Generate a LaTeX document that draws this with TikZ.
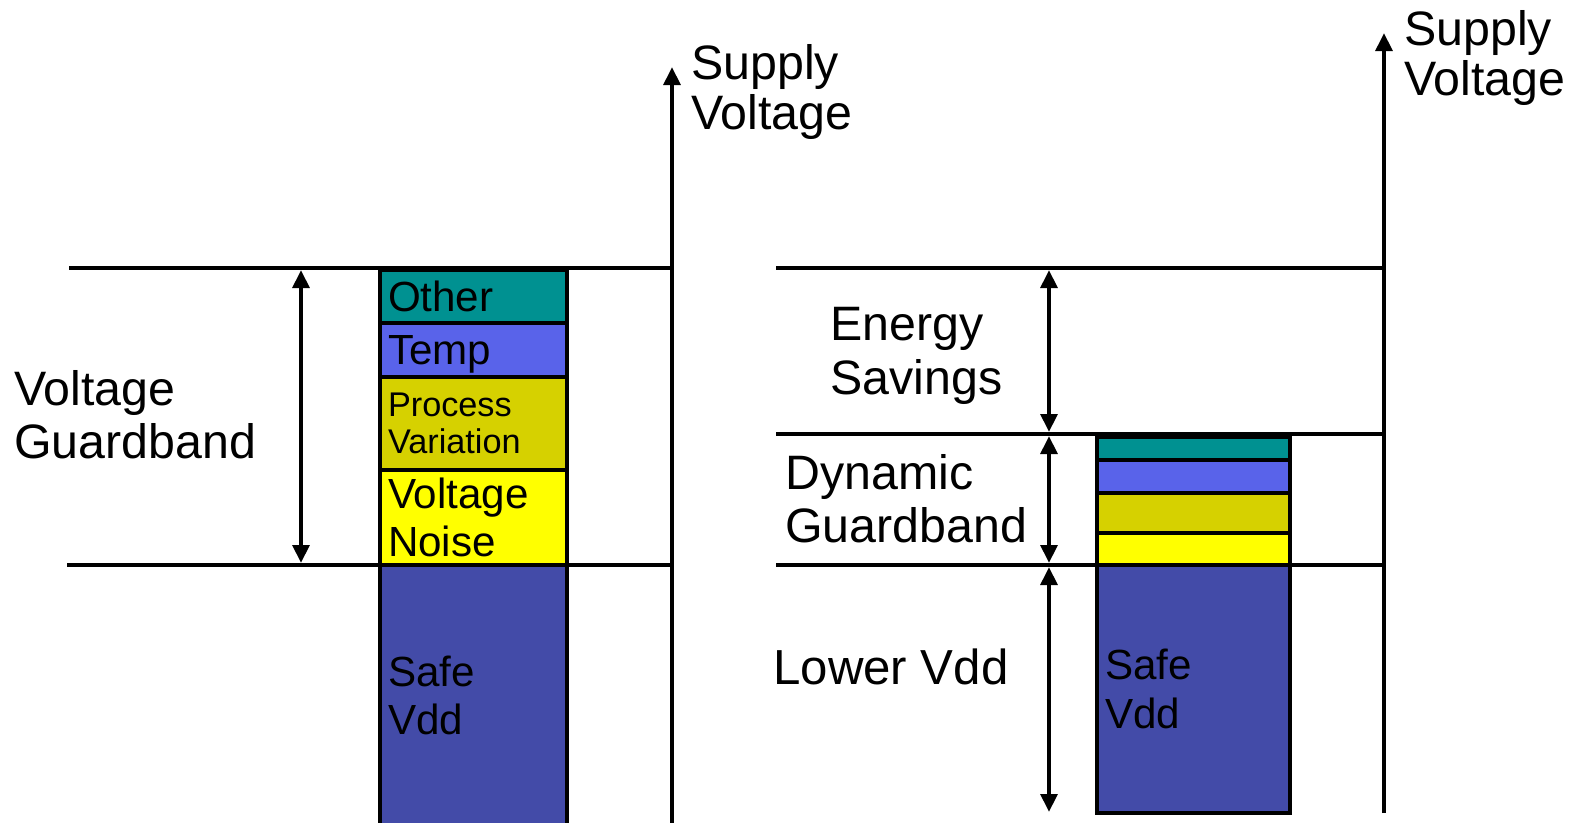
\documentclass[tikz,border=0pt]{standalone}
\usepackage{fontspec}
\setmainfont{Liberation Sans}
\usetikzlibrary{arrows.meta,positioning}
\definecolor{cother}{RGB}{0,145,145}
\definecolor{ctemp}{RGB}{89,99,234}
\definecolor{cproc}{RGB}{214,209,0}
\definecolor{cnoise}{RGB}{255,255,0}
\definecolor{csafe}{RGB}{67,75,168}
\tikzset{
band/.style={draw,line width=2.6pt,outer sep=0pt,inner xsep=.16cm,inner ysep=0pt,align=left,font=\fontsize{24}{27.5}\selectfont},
lband/.style={band,text width=3.42cm},
rband/.style={band,text width=3.54cm},
level/.style={line width=2.5pt},
axis/.style={line width=2.5pt,-{Triangle[length=3.6mm,width=3.3mm]}},
span/.style={line width=2.5pt,{Triangle[length=3.6mm,width=3.3mm]}-{Triangle[length=3.6mm,width=3.3mm]}},
caption/.style={anchor=west,inner sep=0pt,align=left,font=\fontsize{27.5}{30}\selectfont}
}
\begin{document}
\begin{tikzpicture}[x=0.02cm,y=-0.02cm]
\useasboundingbox (0,0) rectangle (1581,822);
% left: static guardband
\coordinate (lorig) at (672,830);
\coordinate (ltip) at (672,67);
\coordinate (lnom) at (69,268);
\coordinate (lsafe) at (67,565);
\coordinate (gbtop) at (301,270);
\coordinate (gbbot) at (301,563);
\draw[axis](lorig)--(ltip);
\draw[level](lnom)--(lnom -| ltip);
\draw[level](lsafe)--(lsafe -| ltip);
\draw[span](gbtop)--(gbbot);
\node[caption,font=\fontsize{27.5}{28.5}\selectfont](lsupply) at (691,92){Supply\\Voltage};
\node[caption](guardband) at (14,415){Voltage\\Guardband};
\node[lband,fill=cother,minimum height=1.06cm,anchor=north west](other) at (380,270){Other};
\node[lband,fill=ctemp,minimum height=1.08cm,below=0pt of other](temp){\raisebox{0pt}[\height][0pt]{Temp}};
\node[lband,fill=cproc,minimum height=1.86cm,below=0pt of temp,font=\fontsize{19.5}{21}\selectfont](process){Process\\Variation};
\node[lband,fill=cnoise,minimum height=1.9cm,below=0pt of process](noise){Voltage\\Noise};
\node[lband,fill=csafe,minimum height=5.22cm,below=0pt of noise](safe){Safe\\Vdd};
% right: dynamic guardband
\coordinate (rorig) at (1384,813);
\coordinate (rtip) at (1384,33);
\coordinate (rnom) at (776,268);
\coordinate (rdyn) at (776,434);
\coordinate (rsafe) at (776,565);
\coordinate (estop) at (1049,270);
\coordinate (esbot) at (1049,432);
\coordinate (dgtop) at (1049,436);
\coordinate (dgbot) at (1049,563);
\coordinate (lvtop) at (1049,567);
\coordinate (lvbot) at (1049,812);
\draw[axis](rorig)--(rtip);
\draw[level](rnom)--(rnom -| rtip);
\draw[level](rdyn)--(rdyn -| rtip);
\draw[level](rsafe)--(rsafe -| rtip);
\draw[span](estop)--(esbot);
\draw[span](dgtop)--(dgbot);
\draw[span](lvtop)--(lvbot);
\node[caption,font=\fontsize{27.5}{28.5}\selectfont](rsupply) at (1404,58){Supply\\Voltage};
\node[caption,font=\fontsize{27.5}{31}\selectfont](savings) at (830,356){Energy\\Savings};
\node[caption](dynamic) at (785,499){Dynamic\\Guardband};
\node[caption,font=\fontsize{28}{30}\selectfont](lower) at (773,667){Lower Vdd};
\node[rband,fill=cother,minimum height=.46cm,anchor=north west](rother) at (1097,437){};
\node[rband,fill=ctemp,minimum height=.66cm,below=0pt of rother](rtemp){};
\node[rband,fill=cproc,minimum height=.8cm,below=0pt of rtemp](rprocess){};
\node[rband,fill=cnoise,minimum height=.64cm,below=0pt of rprocess](rnoise){};
\node[rband,fill=csafe,minimum height=4.96cm,below=0pt of rnoise](rsafebox){Safe\\Vdd};
\end{tikzpicture}
\end{document}
